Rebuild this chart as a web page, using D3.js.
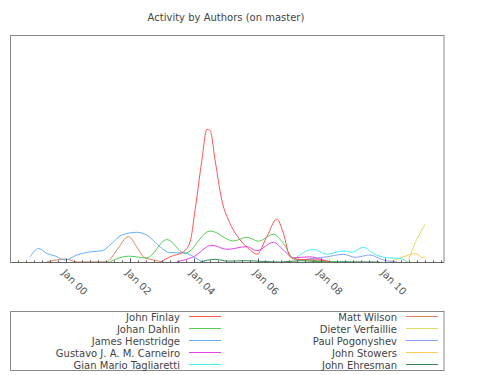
<!DOCTYPE html>
<html>
<head>
<meta charset="utf-8">
<script src="https://d3js.org/d3.v7.min.js"></script>
<style>
  body { margin: 0; background: #fff; }
</style>
</head>
<body>
<div id="chart"></div>
<script>
// authors, in legend order (left column then right column)
const authors = [
  "John Finlay", "Johan Dahlin", "James Henstridge", "Gustavo J. A. M. Carneiro",
  "Gian Mario Tagliaretti", "Matt Wilson", "Dieter Verfaillie", "Paul Pogonyshev",
  "John Stowers", "John Ehresman"
];
const colors = [
  "#ff5555", "#55cc55", "#66b0ff", "#e444e4",
  "#44f0f0", "#e08060", "#e0dc66", "#8ca0ff",
  "#ffcc55", "#2e8b57"
];

// activity per author: [date, value]
const johnFinlay = [
  ["2002-12-11", 0], ["2003-04-04", 2.5], ["2003-09-04", 4.7], ["2003-11-20", 9.1],
  ["2004-01-16", 23], ["2004-04-03", 45.1], ["2004-05-30", 58.7], ["2004-07-06", 58.2],
  ["2004-09-01", 45.1], ["2004-11-17", 27.5], ["2005-02-21", 17.1], ["2005-06-16", 9.9],
  ["2005-10-08", 5.5], ["2005-12-24", 3.7], ["2006-04-17", 11.4], ["2006-08-09", 19.1],
  ["2006-10-24", 12.8], ["2007-01-09", 2.5], ["2007-03-26", 1.4], ["2007-12-17", 1.1],
  ["2008-04-10", 0.3]
];
const johanDahlin = [
  ["2001-05-17", 0.3], ["2001-12-13", 2.8], ["2002-07-11", 2.0], ["2003-02-27", 10.1],
  ["2003-09-23", 4.0], ["2004-07-06", 13.9], ["2005-03-29", 9.5], ["2005-08-31", 11.1],
  ["2006-01-11", 9.4], ["2006-06-30", 12.4], ["2006-10-24", 8.4], ["2007-02-15", 1.8],
  ["2007-07-17", 1.1], ["2008-08-03", 0.3]
];
const jamesHenstridge = [
  ["1998-11-14", 2.5], ["1999-02-18", 6.2], ["1999-05-22", 4.0], ["1999-08-26", 2.9],
  ["1999-12-19", 1.1], ["2000-05-01", 3.3], ["2000-10-01", 4.7], ["2001-02-13", 5.2],
  ["2001-05-17", 7.7], ["2001-09-29", 12.1], ["2002-03-18", 13.3], ["2002-07-11", 12.1],
  ["2002-12-11", 6.9], ["2003-04-04", 4.3], ["2003-09-04", 4.3], ["2003-12-09", 3.0],
  ["2004-03-13", 0.8], ["2004-05-20", 0]
];
const gustavoCarneiro = [
  ["2003-06-20", 0.3], ["2003-12-28", 2.5], ["2004-07-26", 7.6], ["2005-01-14", 5.8],
  ["2005-08-31", 7.0], ["2005-12-24", 5.2], ["2006-06-30", 8.9], ["2006-10-24", 5.5],
  ["2007-02-15", 2.1], ["2007-08-24", 2.5], ["2007-12-17", 1.5], ["2008-04-10", 0.3]
];
const gianMarioTagliaretti = [
  ["2007-02-15", 1.1], ["2007-10-01", 5.8], ["2008-03-03", 3.7], ["2008-09-10", 5.1],
  ["2008-12-15", 4.5], ["2009-04-27", 6.7], ["2009-08-19", 4.0], ["2010-01-20", 2.1],
  ["2010-06-21", 1.8], ["2010-09-06", 0.3]
];
const mattWilson = [
  ["1999-05-03", 0], ["1999-12-19", 1.5], ["2000-05-16", 0.2], ["2001-04-09", 0.3],
  ["2001-08-03", 5.5], ["2001-12-13", 11.4], ["2002-03-18", 7.0], ["2002-06-04", 2.5],
  ["2002-09-26", 1.1], ["2003-02-07", 0]
];
const dieterVerfaillie = [
  ["2010-07-29", 0], ["2010-09-06", 0.3], ["2010-11-01", 4.7], ["2010-12-08", 8.4],
  ["2011-02-05", 12.8], ["2011-04-03", 16.9]
];
const paulPogonyshev = [
  ["2007-07-17", 1.5], ["2008-03-03", 2.5], ["2008-09-10", 3.6], ["2009-01-22", 2.3],
  ["2009-07-12", 3.3], ["2009-12-11", 1.1], ["2010-05-14", 0.3]
];
const johnStowers = [
  ["2010-02-27", 0.3], ["2010-09-06", 3.0], ["2010-11-20", 3.9], ["2011-01-15", 3.4],
  ["2011-02-24", 2.1], ["2011-04-03", 2.5]
];
const johnEhresman = [
  ["2004-03-13", 0.2], ["2004-09-01", 1.4], ["2005-01-29", 0.6], ["2005-08-11", 0.8],
  ["2006-02-22", 0.5], ["2006-09-16", 0.2], ["2007-05-02", 0.8], ["2007-12-17", 0.4],
  ["2008-09-29", 0.3], ["2009-11-03", 0.2]
];
const seriesValues = [
  johnFinlay, johanDahlin, jamesHenstridge, gustavoCarneiro, gianMarioTagliaretti,
  mattWilson, dieterVerfaillie, paulPogonyshev, johnStowers, johnEhresman
];

const parse = d3.timeParse("%Y-%m-%d");
const series = authors.map((name, i) => ({
  name,
  color: colors[i],
  values: seriesValues[i].map(([d, v]) => ({ date: parse(d), value: v }))
}));

const svgWidth = 500;
const svgHeight = 375;
const plot = { left: 10.5, right: 444, top: 35.5, bottom: 262.5 };

const svg = d3.select("#chart")
  .append("svg")
  .attr("width", svgWidth)
  .attr("height", svgHeight)
  .style("font-family", "DejaVu Sans, sans-serif");

const x = d3.scaleTime()
  .domain([new Date(1998, 3, 3), new Date(2011, 10, 6)])
  .range([plot.left, plot.right]);

const y = d3.scaleLinear()
  .domain([0, 100])
  .range([plot.bottom, plot.top]);

// title
svg.append("text")
  .attr("x", 226)
  .attr("y", 21)
  .attr("text-anchor", "middle")
  .style("font-size", "10px")
  .style("fill", "#444")
  .text("Activity by Authors (on master)");

// frame
svg.append("rect")
  .attr("x", plot.left)
  .attr("y", plot.top)
  .attr("width", plot.right - plot.left)
  .attr("height", plot.bottom - plot.top)
  .attr("fill", "none")
  .attr("stroke", "#888");

// lines
const line = d3.line()
  .x(d => x(d.date))
  .y(d => y(d.value))
  .curve(d3.curveMonotoneX);

svg.append("g")
  .selectAll("path")
  .data(series.slice().reverse())
  .join("path")
  .attr("d", d => line(d.values))
  .attr("fill", "none")
  .attr("stroke", d => d.color)
  .attr("stroke-width", 1);

// x axis: quarter ticks, labels every 2 years
const isMajor = d => d.getMonth() === 0 && d.getFullYear() % 2 === 0;
const ticks = x.ticks(d3.timeMonth.every(3));
const axis = svg.append("g");

axis.append("line")
  .attr("x1", plot.left).attr("x2", plot.right)
  .attr("y1", plot.bottom).attr("y2", plot.bottom)
  .attr("stroke", "#666");

axis.selectAll("line.tick")
  .data(ticks)
  .join("line")
  .attr("class", "tick")
  .attr("x1", d => Math.round(x(d)) + 0.5)
  .attr("x2", d => Math.round(x(d)) + 0.5)
  .attr("y1", plot.bottom)
  .attr("y2", d => plot.bottom - (isMajor(d) ? 4 : 2))
  .attr("stroke", "#555");

axis.selectAll("text")
  .data(ticks.filter(isMajor))
  .join("text")
  .attr("transform", d => `translate(${x(d) - 5},${plot.bottom + 11}) rotate(45)`)
  .attr("text-anchor", "start")
  .style("font-size", "10px")
  .style("fill", "#555")
  .text(d3.timeFormat("%b %y"));

// legend
const legend = svg.append("g");
legend.append("rect")
  .attr("x", 10.5)
  .attr("y", 311.5)
  .attr("width", 433.5)
  .attr("height", 59)
  .attr("fill", "none")
  .attr("stroke", "#888");

series.forEach((s, i) => {
  const col = Math.floor(i / 5);
  const row = i % 5;
  const textEnd = col === 0 ? 180 : 397;
  const cy = 316.5 + row * 12;
  const g = legend.append("g");
  g.append("text")
    .attr("x", textEnd)
    .attr("y", cy + 4)
    .attr("text-anchor", "end")
    .style("font-size", "10px")
    .style("fill", "#444")
    .text(s.name);
  g.append("line")
    .attr("x1", textEnd + 9)
    .attr("x2", textEnd + 41)
    .attr("y1", cy)
    .attr("y2", cy)
    .attr("stroke", s.color)
    .attr("stroke-width", 1);
});
</script>
</body>
</html>
